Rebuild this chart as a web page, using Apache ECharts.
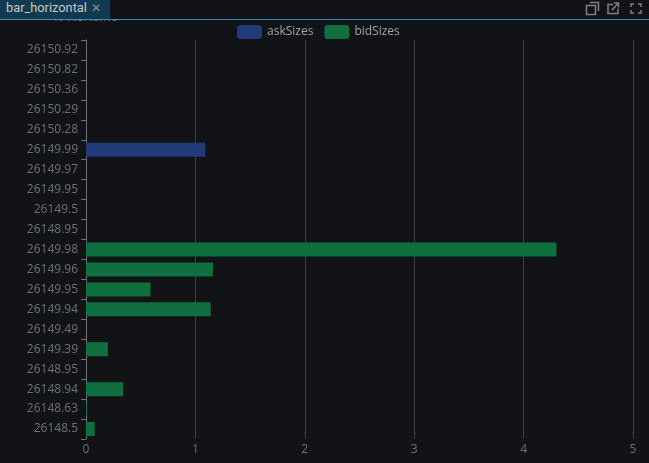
<!DOCTYPE html>
<html>
<head>
<meta charset="utf-8">
<style>
  html, body { margin: 0; padding: 0; background: #111317; overflow: hidden; }
  #main { position: absolute; left: 0; top: 0; width: 649px; height: 463px; }
  #bar { position: absolute; left: 0; top: 0; width: 649px; height: 19px; background: #111317; border-bottom: 1px solid #3d8fb3; }
  #tab { position: absolute; left: 0; top: 0; width: 110px; height: 19px; background: #0f3a50; color: #c4c8cc; font: 12.8px/16px Roboto, "Noto Sans", sans-serif; padding-left: 6px; box-sizing: border-box; white-space: nowrap; }
  #tab span { position: absolute; left: 91px; top: 0; color: #8a9096; font-size: 12px; }
  svg { position: absolute; left: 0; top: 0; }
</style>
<script src="https://cdn.jsdelivr.net/npm/echarts@6/dist/echarts.min.js"></script>
</head>
<body>
<div id="main" style="width:649px;height:463px"></div>
<div id="bar">
  <div id="tab">bar_horizontal<span>✕</span></div>
  <svg width="649" height="19" fill="none" stroke="#808080" stroke-width="1.5">
    <rect x="586.500" y="5.500" width="9" height="9"/>
    <path d="M590 2.500h8.500v8.500"/>
    <path d="M613 4.500h-5v9h10v-5M612 10l6-6.500M614 3h4.500v4.500"/>
    <path d="M631 7v-3h3M638 4h3v3M641 10v3h-3M634 13h-3v-3"/>
  </svg>
</div>
<script>
var categories = ['26150.92','26150.82','26150.36','26150.29','26150.28','26149.99','26149.97','26149.95','26149.5','26148.95',
  '26149.98','26149.96','26149.95','26149.94','26149.49','26149.39','26148.95','26148.94','26148.63','26148.5'];
var askSizes = [0,0,0,0,0,1.09,0,0,0,0,0,0,0,0,0,0,0,0,0,0];
var bidSizes = [0,0,0,0,0,0,0,0,0,0,4.3,1.16,0.59,1.14,0,0.2,0,0.34,0.01,0.08];

var chartDom = document.getElementById('main');
var myChart = echarts.init(chartDom);
var option;

option = {
  animation: false,
  backgroundColor: '#111317',
  textStyle: { fontFamily: '"Open Sans", "Noto Sans", sans-serif' },
  legend: {
    top: 20,
    left: 232,
    itemWidth: 25,
    itemHeight: 14,
    itemGap: 11,
    textStyle: { color: '#a3a3a3', fontSize: 12 },
    data: ['askSizes', 'bidSizes']
  },
  grid: { left: 86, right: 16, top: 40, bottom: 24 },
  xAxis: {
    type: 'value',
    position: 'bottom',
    min: 0,
    max: 5,
    interval: 1,
    axisLine: { show: false },
    axisTick: { show: false },
    axisLabel: { show: true, color: '#6e7079', fontSize: 12, margin: 5 },
    splitLine: { show: true, lineStyle: { color: '#3c3e42', width: 1 } }
  },
  yAxis: {
    type: 'category',
    inverse: true,
    name: 'xAxisName',
    nameLocation: 'start',
    nameGap: 16,
    nameTextStyle: { color: '#6e7079', fontSize: 12 },
    data: categories,
    axisLine: { show: true, lineStyle: { color: '#6e7079' } },
    axisTick: { show: true, lineStyle: { color: '#6e7079' } },
    axisLabel: { color: '#6e7079', fontSize: 12, margin: 8 }
  },
  series: [
    {
      name: 'askSizes',
      type: 'bar',
      stack: 'sizes',
      barWidth: 14,
      data: askSizes,
      itemStyle: { color: '#213b78' }
    },
    {
      name: 'bidSizes',
      type: 'bar',
      stack: 'sizes',
      barWidth: 14,
      data: bidSizes,
      itemStyle: { color: '#0f6f3f' }
    }
  ]
};
option && myChart.setOption(option);
</script>
</body>
</html>
